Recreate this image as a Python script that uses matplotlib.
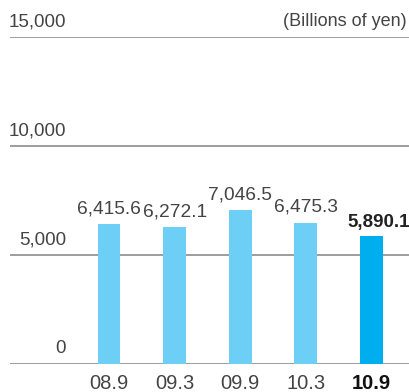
import matplotlib
matplotlib.use("Agg")
import matplotlib.pyplot as plt

categories = ["08.9", "09.3", "09.9", "10.3", "10.9"]
values = [6415.6, 6272.1, 7046.5, 6475.3, 5890.1]
value_labels = ["6,415.6", "6,272.1", "7,046.5", "6,475.3", "5,890.1"]
yticks = [0, 5000, 10000, 15000]
ytick_labels = ["0", "5,000", "10,000", "15,000"]
unit_label = "(Billions of yen)"

plt.rcParams['font.family'] = ['Liberation Sans', 'DejaVu Sans']

fig = plt.figure(figsize=(4.10, 3.92), dpi=100)
ax = fig.add_axes([10/410, 28/392, 400/410, 327/392])
ax.set_xlim(-1.509, 4.588)
ax.set_ylim(0, 15000)

colors = ["#6dcff6"] * 4 + ["#00aeef"]
x = list(range(len(categories)))
ax.bar(x, values, width=0.35, color=colors, zorder=3)

for yv in yticks:
    ax.axhline(yv, color="#8c8c8c", lw=1.2, zorder=2)

trans_y = ax.get_yaxis_transform()
for yv, lab in zip(yticks, ytick_labels):
    ax.annotate(lab, xy=(56/400, yv), xycoords=trans_y, xytext=(0, 5),
                textcoords="offset points", ha="right", va="bottom",
                fontsize=13.5, color="#444444")
ax.annotate(unit_label, xy=(397/400, 15000), xycoords=trans_y, xytext=(0, 5),
            textcoords="offset points", ha="right", va="bottom",
            fontsize=13, color="#444444")

for i, (v, lab) in enumerate(zip(values, value_labels)):
    last = i == len(values) - 1
    ax.annotate(lab, xy=(i, v), xytext=(5 if last else 0, 3.5 if last else 5),
                textcoords="offset points",
                ha="center", va="bottom", fontsize=13.5 if last else 13.8,
                color="#222222" if last else "#444444",
                fontweight="bold" if last else "normal", annotation_clip=False)

ax.set_xticks(x)
ax.set_xticklabels(categories, fontsize=14.5, color="#444444")
ax.get_xticklabels()[-1].set_fontweight("bold")
ax.get_xticklabels()[-1].set_color("#111111")
ax.tick_params(axis="x", length=0, pad=7)
ax.set_yticks([])
for s in ax.spines.values():
    s.set_visible(False)

fig.savefig("out.png", dpi=100)
